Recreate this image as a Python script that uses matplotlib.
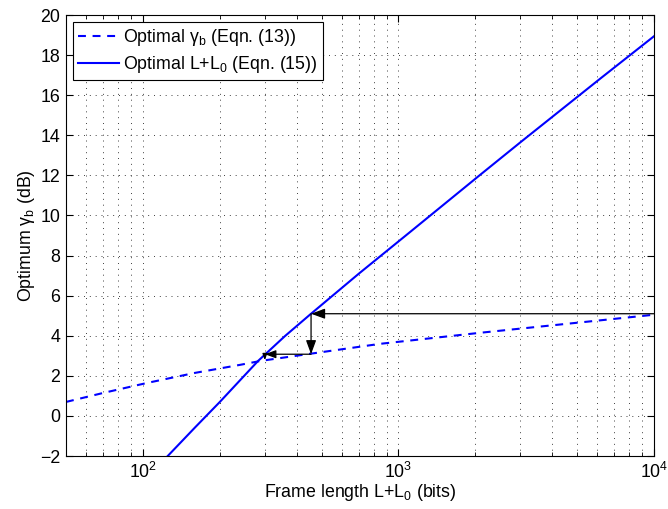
import matplotlib
matplotlib.use("Agg")
import matplotlib.pyplot as plt
import numpy as np

plt.rcParams.update({
    "font.family": ["Liberation Sans", "DejaVu Sans"],
    "font.size": 12.8,
    "mathtext.default": "regular",
    "axes.linewidth": 0.8,
})

# Optimal gamma_b (Eqn. 13)
frame_dashed = [50, 70, 104, 160, 240, 290, 450, 850, 2090, 5000, 10000]
gamma_dashed = [0.70, 1.15, 1.65, 2.15, 2.55, 2.75, 3.10, 3.60, 4.15, 4.65, 5.05]

# Optimal L+L0 (Eqn. 15)
frame_solid = [125, 160, 200, 282, 360, 455, 700, 1114, 2094, 3048, 6180, 10000]
gamma_solid = [-2.0, -0.57, 0.70, 2.74, 3.99, 5.10, 7.10, 9.19, 12.04, 13.72,
               16.84, 18.94]

# iteration path drawn with arrows: (start, end) in data units
arrow_path = [
    ((10000, 5.1), (455, 5.1)),
    ((455, 5.1), (455, 3.08)),
    ((455, 3.08), (300, 3.08)),
    ((300, 3.08), (300, 2.78)),
]
head_scale = [14, 14, 11, 6]

fig = plt.figure(figsize=(6.68, 5.09), dpi=100)
ax = fig.add_axes([0.0988, 0.104, 0.8802, 0.8665])

ax.plot(frame_dashed, gamma_dashed, color="blue", lw=1.5, dashes=(3.8, 3.2),
        label="Optimal γ$_{b}$ (Eqn. (13))")
ax.plot(frame_solid, gamma_solid, color="blue", lw=1.5,
        label="Optimal L+L$_{0}$ (Eqn. (15))")

for (start, end), ms in zip(arrow_path, head_scale):
    ax.annotate("", xy=end, xytext=start,
                arrowprops=dict(arrowstyle="-|>,head_length=0.6,head_width=0.22",
                                color="black", lw=0.9, mutation_scale=ms,
                                shrinkA=0, shrinkB=0))

ax.set_xscale("log")
ax.set_xlim(50, 1e4)
ax.set_ylim(-2, 20)
ax.set_yticks(np.arange(-2, 21, 2))

ax.grid(True, which="major", axis="both", color="0.25",
        linestyle=(0, (1, 5)), lw=0.7)
ax.grid(True, which="minor", axis="x", color="0.25",
        linestyle=(0, (1, 5)), lw=0.7)
ax.tick_params(which="both", direction="in", top=True, right=True)
ax.tick_params(which="major", length=5, pad=4)
ax.tick_params(which="minor", length=3)

ax.set_xlabel("Frame length L+L$_{0}$ (bits)", labelpad=0)
ax.set_ylabel("Optimum γ$_{b}$ (dB)", labelpad=2)

leg = ax.legend(loc="upper left", fancybox=False, edgecolor="black",
                framealpha=1, borderaxespad=0.4, handlelength=2.3,
                handletextpad=0.2, borderpad=0.3, labelspacing=0.3)
leg.get_frame().set_linewidth(0.8)

fig.savefig("out.png", dpi=100)
